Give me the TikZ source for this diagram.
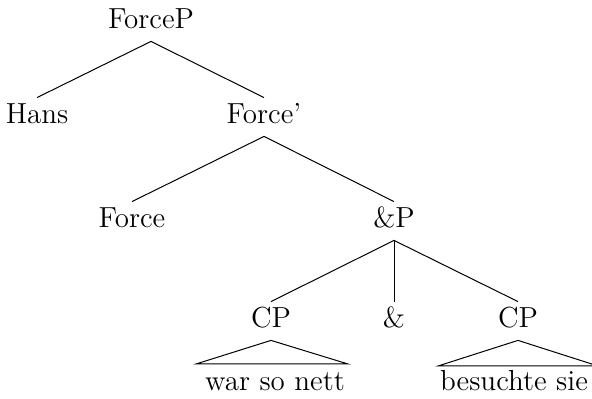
\documentclass[tikz,border=0pt]{standalone}
\usepackage{tikz}
\tikzset{
    cat/.style ={
        anchor=base,
        font=\fontsize{14.5}{17}\selectfont,
        inner sep=2pt,
        text height=11pt,
        text depth=4pt
    },
    branch/.style ={
        draw=black,
        line width=0.5pt
    }
}

\begin{document}
\begin{tikzpicture}[x=0.5pt,y=-0.5pt]
    \useasboundingbox (0,0) rectangle (592,399);
    \node[cat] (forcep) at(151,29) {ForceP};
    \node[cat] (hans) at(37,124) {Hans};
    \node[cat] (forcebar) at(264,124) {Force'};
    \node[cat] (force) at(132,228) {Force};
    \node[cat] (andp) at(394,228) {\&P};
    \node[cat] (cpa) at(271,328) {CP};
    \node[cat] (and) at(394,328) {\&};
    \node[cat] (cpb) at(518,328) {CP};
    \node[cat] (wsn) at(275,390) {war so nett};
    \node[cat] (bs) at(514,390) {besuchte sie};
    % roofs
    \coordinate (wsnl) at(196,364);
    \coordinate (wsnr) at(348,364);
    \coordinate (bsl) at(438,366);
    \coordinate (bsr) at(598,366);
    \foreach \p/\c in {forcep/hans,forcep/forcebar,forcebar/force,forcebar/andp,
        andp/cpa,andp/and,andp/cpb}
        \draw[branch] (\p.south) -- (\c.north);
    \draw[branch] (cpa.south) -- (wsnl) -- (wsnr) -- cycle;
    \draw[branch] (cpb.south) -- (bsl) -- (bsr) -- cycle;
\end{tikzpicture}
\end{document}
